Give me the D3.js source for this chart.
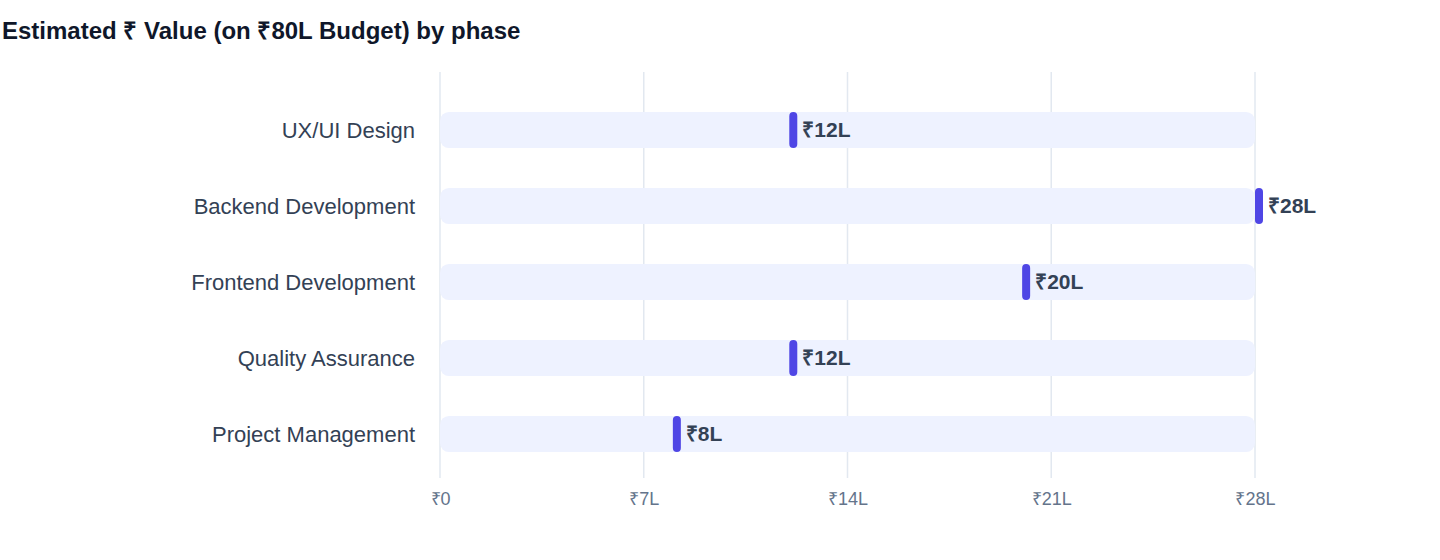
<!DOCTYPE html>
<html><head><meta charset="utf-8">
<script src="https://cdn.jsdelivr.net/npm/d3@7"></script>
<style>body{margin:0;background:#fff;font-family:"Liberation Sans",Arial,sans-serif;}</style>
</head><body><div id="chart"></div>
<script>
const categories = ["UX/UI Design","Backend Development","Frontend Development","Quality Assurance","Project Management"];
const values = [12, 28, 20, 12, 8];
const tickValues = [0, 7, 14, 21, 28];
const trackMax = 28;

const width = 1440, height = 560;
const svg = d3.select("#chart").append("svg").attr("width", width).attr("height", height);

svg.append("text").attr("x", 2).attr("y", 39)
  .attr("font-size", 24).attr("font-weight", 700).attr("fill", "#0f172a")
  .text("Estimated ₹ Value (on ₹80L Budget) by phase");

const x = d3.scaleLinear().domain([0, 28]).range([440, 1255]);
const y = d3.scaleBand().domain(categories).range([92, 472]).paddingInner(0.526).paddingOuter(0.263);

// grid
svg.selectAll(".grid").data(tickValues).enter().append("line")
  .attr("x1", d => x(d)).attr("x2", d => x(d)).attr("y1", 72).attr("y2", 478)
  .attr("stroke", "#e2e8f0").attr("stroke-width", 1.5);

const ax = svg.append("g").attr("transform", "translate(0,478)")
  .call(d3.axisBottom(x).tickValues(tickValues).tickSize(0).tickPadding(14)
    .tickFormat(d => "₹" + d + (d ? "L" : "")));
ax.select(".domain").remove();
ax.selectAll("text").attr("font-size", 18).attr("fill", "#64748b").attr("font-family", "'Liberation Sans',Arial,sans-serif");

// tracks
svg.selectAll(".track").data(categories).enter().append("rect")
  .attr("x", x(0)).attr("width", x(trackMax) - x(0))
  .attr("y", d => y(d)).attr("height", y.bandwidth())
  .attr("rx", 9).attr("fill", "#eef2ff");

// labels
svg.selectAll(".cat").data(categories).enter().append("text")
  .attr("x", 415).attr("y", d => y(d) + y.bandwidth() / 2).attr("dy", "0.35em")
  .attr("text-anchor", "end").attr("font-size", 22).attr("fill", "#334155").text(d => d);

// markers
svg.selectAll(".mk").data(values).enter().append("rect")
  .attr("x", d => x(d)).attr("width", 8)
  .attr("y", (d, i) => y(categories[i])).attr("height", y.bandwidth())
  .attr("rx", 4).attr("fill", "#4f46e5");

svg.selectAll(".val").data(values).enter().append("text")
  .attr("x", d => x(d) + 13).attr("y", (d, i) => y(categories[i]) + y.bandwidth() / 2).attr("dy", "0.35em")
  .attr("font-size", 21).attr("font-weight", 700).attr("fill", "#334155").text(d => "₹" + d + "L");
</script></body></html>
